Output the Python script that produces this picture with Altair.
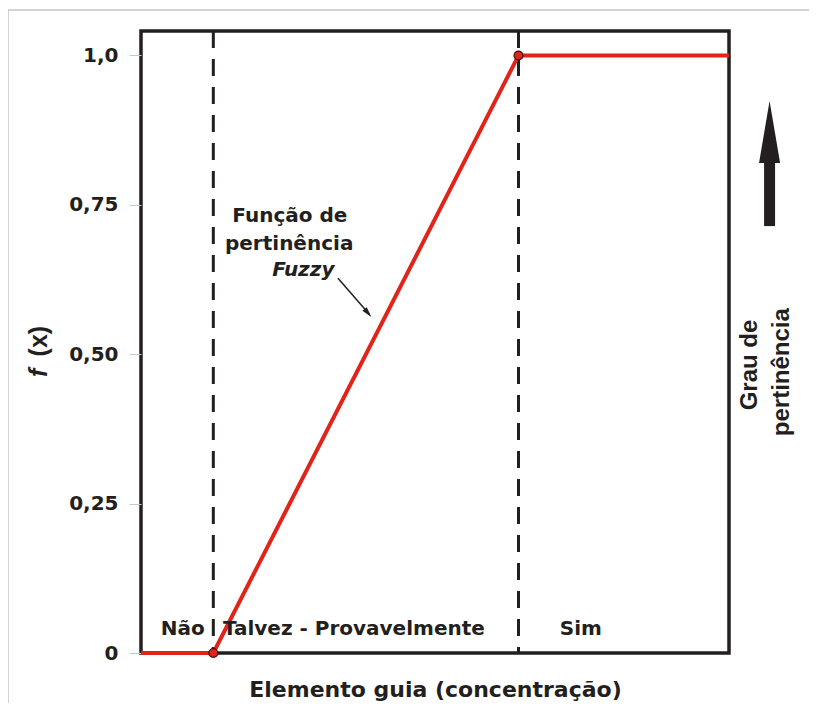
import altair as alt
import pandas as pd

# ---- data ----
curve_x = [0, 12.3, 64.2, 100]
curve_y = [0, 0, 1, 1]
knot_x = [12.3, 64.2]
knot_y = [0, 1]
divider_x = [12.3, 64.2]

region_labels = ["Não", "Talvez - Provavelmente", "Sim"]
region_x = [7.1, 36.2, 74.8]
region_y = [0.03, 0.03, 0.03]

y_ticks = [0, 0.25, 0.5, 0.75, 1.0]
y_tick_labels = ["0", "0,25", "0,50", "0,75", "1,0"]

note_lines = ["Função de", "pertinência"]
note_x = [25.3, 25.2]
note_y = [0.721, 0.674]
note_italic = ["Fuzzy"]
note_italic_x = [27.6]
note_italic_y = [0.631]

pointer_x = [33.5]
pointer_y = [0.627]
pointer_x2 = [38.9]
pointer_y2 = [0.566]
pointer_head_x = [38.6]
pointer_head_y = [0.569]

big_arrow_x = [106.9]
big_arrow_y = [0.7145]
big_arrow_y2 = [0.835]
big_head_y = [0.872]

side_lines = ["Grau de", "pertinência"]
side_x = [103.6, 109.0]
side_y = [0.482, 0.470]

ylab_normal = ["(x)"]
ylab_italic = ["f"]
ylab_x = [-17.4]
ylab_normal_y = [0.522]
ylab_italic_y = [0.469]

BLACK = "#231f20"
RED = "#e2231a"

x_scale = alt.Scale(domain=[0, 100], nice=False, zero=False)
y_scale = alt.Scale(domain=[0, 1.041], nice=False, zero=False)

label_expr = " : ".join(
    f"datum.value == {v} ? '{t}'" for v, t in zip(y_ticks, y_tick_labels)
) + " : ''"

curve = pd.DataFrame({"x": curve_x, "y": curve_y})
knots = pd.DataFrame({"x": knot_x, "y": knot_y})
dividers = pd.DataFrame({"x": divider_x})
regions = pd.DataFrame({"t": region_labels, "x": region_x, "y": region_y})
notes = pd.DataFrame({"t": note_lines, "x": note_x, "y": note_y})
notes_it = pd.DataFrame({"t": note_italic, "x": note_italic_x, "y": note_italic_y})
pointer = pd.DataFrame({"x": pointer_x, "y": pointer_y, "x2": pointer_x2, "y2": pointer_y2})
pointer_head = pd.DataFrame({"x": pointer_head_x, "y": pointer_head_y})
big_arrow = pd.DataFrame({"x": big_arrow_x, "y": big_arrow_y, "y2": big_arrow_y2})
big_head = pd.DataFrame({"x": big_arrow_x, "y": big_head_y})
side = pd.DataFrame({"t": side_lines, "x": side_x, "y": side_y})
ylab_n = pd.DataFrame({"t": ylab_normal, "x": ylab_x, "y": ylab_normal_y})
ylab_i = pd.DataFrame({"t": ylab_italic, "x": ylab_x, "y": ylab_italic_y})

base_x = alt.X("x:Q", scale=x_scale,
               axis=alt.Axis(title="Elemento guia (concentração)", labels=False, ticks=False,
                             domain=False, grid=False, titleFont="DejaVu Sans",
                             titleFontSize=22, titleFontWeight="bold", titleColor=BLACK,
                             titlePadding=26))
base_y = alt.Y("y:Q", scale=y_scale,
               axis=alt.Axis(title=None, values=y_ticks, labelExpr=label_expr, grid=False,
                             domain=False, ticks=True, tickSize=12, tickColor="#c8c8c8",
                             tickWidth=1, labelPadding=11, labelFont="DejaVu Sans",
                             labelFontSize=20, labelFontWeight="bold", labelColor=BLACK))

frame_top = alt.Chart(pd.DataFrame({"k": [0]})).mark_rule(color="#c4c4c4", strokeWidth=1.5).encode(
    x=alt.value(-133), x2=alt.value(700), y=alt.value(-21))
frame_left = alt.Chart(pd.DataFrame({"k": [0]})).mark_rule(color="#c4c4c4", strokeWidth=1.5).encode(
    x=alt.value(-133), y=alt.value(-21), y2=alt.value(700))

line_layer = alt.Chart(curve).mark_line(color=RED, strokeWidth=4).encode(x=base_x, y=base_y)

div_layer = alt.Chart(dividers).mark_rule(color=BLACK, strokeWidth=3, strokeDash=[17, 11]).encode(
    x=alt.X("x:Q", scale=x_scale))

knot_layer = alt.Chart(knots).mark_point(filled=True, fill=RED, stroke="#3a1410", strokeWidth=1.2,
                                          size=80, opacity=1).encode(
    x=alt.X("x:Q", scale=x_scale), y=alt.Y("y:Q", scale=y_scale))

region_layer = alt.Chart(regions).mark_text(font="DejaVu Sans", fontSize=20, fontWeight="bold",
                                            color=BLACK, align="center", baseline="alphabetic").encode(
    x=alt.X("x:Q", scale=x_scale), y=alt.Y("y:Q", scale=y_scale), text="t:N")

note_layer = alt.Chart(notes).mark_text(font="DejaVu Sans", fontSize=20, fontWeight="bold",
                                        color=BLACK, align="center", baseline="alphabetic").encode(
    x=alt.X("x:Q", scale=x_scale), y=alt.Y("y:Q", scale=y_scale), text="t:N")

note_it_layer = alt.Chart(notes_it).mark_text(font="DejaVu Sans", fontSize=20, fontWeight="bold",
                                              fontStyle="italic", color=BLACK, align="center",
                                              baseline="alphabetic").encode(
    x=alt.X("x:Q", scale=x_scale), y=alt.Y("y:Q", scale=y_scale), text="t:N")

pointer_layer = alt.Chart(pointer).mark_rule(color=BLACK, strokeWidth=1.5).encode(
    x=alt.X("x:Q", scale=x_scale), y=alt.Y("y:Q", scale=y_scale), x2="x2:Q", y2="y2:Q")

pointer_head_layer = alt.Chart(pointer_head).mark_point(
    shape="M0,-1 L0.55,1 L-0.55,1 Z", filled=True, color=BLACK, size=110, angle=140, opacity=1).encode(
    x=alt.X("x:Q", scale=x_scale), y=alt.Y("y:Q", scale=y_scale))

big_arrow_layer = alt.Chart(big_arrow).mark_rule(color=BLACK, strokeWidth=11, strokeCap="butt").encode(
    x=alt.X("x:Q", scale=x_scale), y=alt.Y("y:Q", scale=y_scale), y2="y2:Q")

big_head_layer = alt.Chart(big_head).mark_point(
    shape="M0,-1 L0.34,1 L-0.34,1 Z", filled=True, color=BLACK, size=3844, opacity=1).encode(
    x=alt.X("x:Q", scale=x_scale), y=alt.Y("y:Q", scale=y_scale))

side_layer = alt.Chart(side).mark_text(font="Liberation Sans", fontSize=24, fontWeight="bold",
                                       color=BLACK, align="center", baseline="middle",
                                       angle=270).encode(
    x=alt.X("x:Q", scale=x_scale), y=alt.Y("y:Q", scale=y_scale), text="t:N")

ylab_n_layer = alt.Chart(ylab_n).mark_text(font="Liberation Sans", fontSize=25, fontWeight="bold",
                                           color=BLACK, align="center", baseline="middle",
                                           angle=270).encode(
    x=alt.X("x:Q", scale=x_scale), y=alt.Y("y:Q", scale=y_scale), text="t:N")

ylab_i_layer = alt.Chart(ylab_i).mark_text(font="Liberation Sans", fontSize=25, fontWeight="bold",
                                           fontStyle="italic", color=BLACK, align="center",
                                           baseline="middle", angle=270).encode(
    x=alt.X("x:Q", scale=x_scale), y=alt.Y("y:Q", scale=y_scale), text="t:N")

chart = alt.layer(
    frame_top, frame_left, div_layer, line_layer, knot_layer, region_layer, note_layer,
    note_it_layer, pointer_layer, pointer_head_layer, big_arrow_layer, big_head_layer,
    side_layer, ylab_n_layer, ylab_i_layer
).properties(
    width=588, height=622,
    autosize=alt.AutoSizeParams(type="none"),
    padding={"left": 133, "top": 23, "right": 80, "bottom": 50},
).configure(
    background="white"
).configure_view(
    stroke=BLACK, strokeWidth=3.5
)

chart.save("out.html", embed_options={"renderer": "svg", "actions": False})
